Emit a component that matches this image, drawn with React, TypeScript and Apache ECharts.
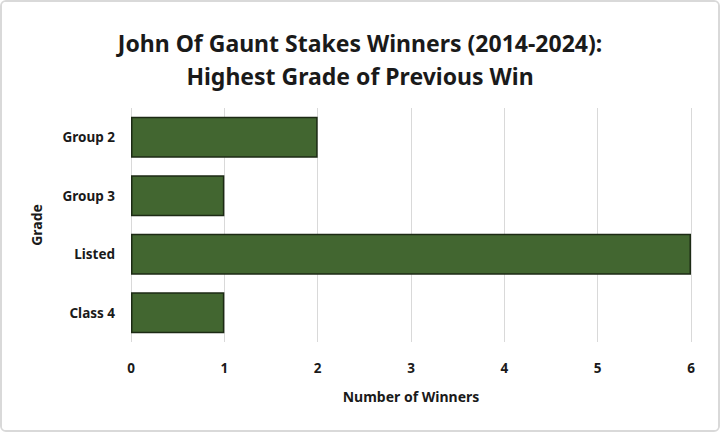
import { useEffect, useRef } from 'react'
import * as echarts from 'echarts'

const grades = ['Group 2', 'Group 3', 'Listed', 'Class 4']
const winners = [2, 1, 6, 1]
const titleLines = ['John Of Gaunt Stakes Winners (2014-2024):', 'Highest Grade of Previous Win']

const font = '"Noto Sans", "Open Sans", sans-serif'

export default function App() {
  const elRef = useRef<HTMLDivElement | null>(null)

  useEffect(() => {
    if (!elRef.current) return
    const chart = echarts.init(elRef.current, undefined, { renderer: 'svg' })
    chart.setOption({
      animation: false,
      backgroundColor: '#ffffff',
      title: {
        text: titleLines.join('\n'),
        left: 'center',
        top: 19,
        textStyle: { color: '#1a1a1a', fontSize: 23, fontWeight: 'bold', fontFamily: font, lineHeight: 33 },
      },
      grid: { left: 129, right: 27, top: 106, bottom: 88 },
      xAxis: {
        type: 'value',
        min: 0,
        max: 6,
        interval: 1,
        name: 'Number of Winners',
        nameLocation: 'middle',
        nameGap: 47,
        nameTextStyle: { color: '#1a1a1a', fontSize: 14, fontWeight: 'bold', fontFamily: font },
        axisLine: { show: false },
        axisTick: { show: false },
        axisLabel: { color: '#1a1a1a', fontSize: 13.5, fontWeight: 'bold', fontFamily: font, margin: 19 },
        splitLine: { lineStyle: { color: '#d9d9d9', width: 1 } },
      },
      yAxis: {
        type: 'category',
        data: grades,
        inverse: true,
        name: 'Grade',
        nameLocation: 'middle',
        nameGap: 88,
        nameTextStyle: { color: '#1a1a1a', fontSize: 14, fontWeight: 'bold', fontFamily: font },
        axisLine: { show: false },
        axisTick: { show: false },
        axisLabel: { color: '#1a1a1a', fontSize: 13.5, fontWeight: 'bold', fontFamily: font, margin: 16 },
      },
      series: [
        {
          type: 'bar',
          data: winners,
          barCategoryGap: '30%',
          itemStyle: { color: '#426630', borderColor: '#1c2a14', borderWidth: 1.5 },
        },
      ],
    })
    return () => chart.dispose()
  }, [])

  return (
    <div style={{ position: 'absolute', left: 0, top: 0, width: 720, height: 432, boxSizing: 'border-box', border: '2px solid #d9d9d9', borderRadius: 6, overflow: 'hidden', background: '#fff' }}>
      <div ref={elRef} style={{ width: 716, height: 428 }} />
    </div>
  )
}
